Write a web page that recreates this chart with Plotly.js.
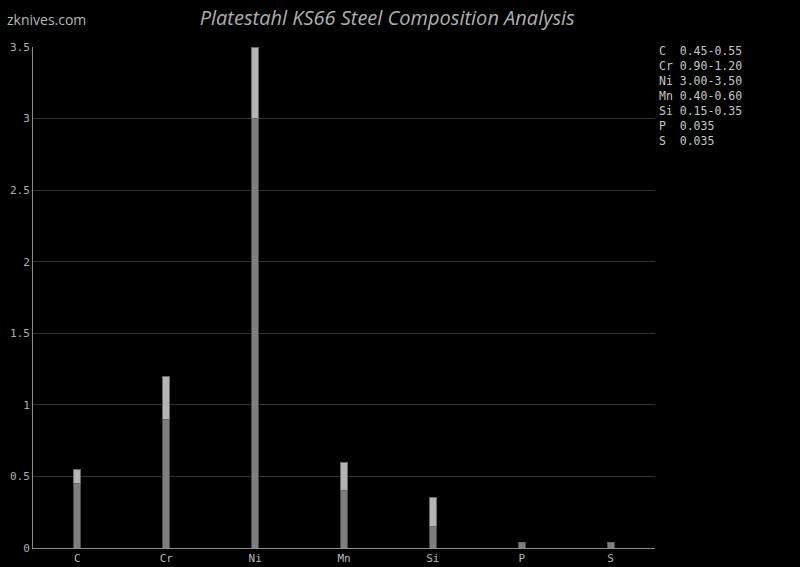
<!DOCTYPE html>
<html><head><meta charset="utf-8">
<script src="https://cdn.plot.ly/plotly-3.0.1.min.js"></script>
<style>body{margin:0;background:#000}</style>
</head><body><div id="chart" style="width:800px;height:567px"></div>
<script>
const elements = ["C","Cr","Ni","Mn","Si","P","S"];
const minValues = [0.45, 0.90, 3.00, 0.40, 0.15, 0.035, 0.035];
const maxValues = [0.55, 1.20, 3.50, 0.60, 0.35, 0.035, 0.035];
const rangeLabels = ["0.45-0.55","0.90-1.20","3.00-3.50","0.40-0.60","0.15-0.35","0.035","0.035"];

const extra = maxValues.map((v,i)=> +(v - minValues[i]).toFixed(3));
const mono = "DejaVu Sans Mono, monospace";

const traces = [
  {type:"bar", x:elements, y:minValues, name:"min",
   marker:{color:"#7e7e7e", line:{color:"#4a4a4a", width:1}}, hoverinfo:"x+y"},
  {type:"bar", x:elements, y:extra, name:"range",
   marker:{color:"#b4b4b4", line:{color:"#6a6a6a", width:1}}, hoverinfo:"x+y"}
];

const legendLines = elements.map((e,i)=> (e.length===1? e+"  " : e+" ") + rangeLabels[i]).join("<br>");

const layout = {
  width:800, height:567,
  paper_bgcolor:"#000", plot_bgcolor:"#000",
  barmode:"stack", bargap:0.92, showlegend:false,
  margin:{l:33, r:145, t:47, b:19},
  title:{text:"<i>Platestahl KS66 Steel Composition Analysis</i>", x:0.484, xanchor:"center", y:0.968, yanchor:"middle",
         font:{family:"Open Sans, sans-serif", size:20, color:"#b0b0b0"}},
  xaxis:{showgrid:false, showline:true, linecolor:"#8a8a8a", linewidth:1, ticks:"",
         tickfont:{family:mono, size:11, color:"#b8b8b8"}, zeroline:false},
  yaxis:{range:[0,3.5], dtick:0.5, showgrid:true, gridcolor:"#333", gridwidth:1,
         showline:true, linecolor:"#8a8a8a", linewidth:1, ticks:"", zeroline:false,
         tickfont:{family:mono, size:11, color:"#b0b0b0"}, tickformat:"~g"},
  annotations:[
    {text:"zknives.com", xref:"paper", yref:"paper", x:-0.045, y:1.078, xanchor:"left", yanchor:"top",
     showarrow:false, font:{family:"Open Sans, sans-serif", size:14, color:"#b8b8b8"}},
    {text:legendLines, xref:"paper", yref:"paper", x:1.004, y:1.01, xanchor:"left", yanchor:"top",
     align:"left", showarrow:false, font:{family:mono, size:11.5, color:"#c8c8c8"}}
  ]
};
Plotly.newPlot("chart", traces, layout, {displayModeBar:false, staticPlot:true});
</script></body></html>
